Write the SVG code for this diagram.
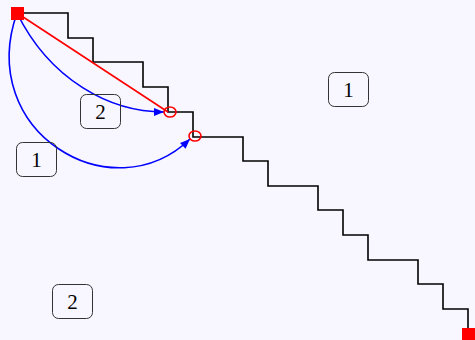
<svg xmlns="http://www.w3.org/2000/svg" width="475" height="340" viewBox="0 0 475 340">
<style>
.stair{fill:none;stroke:#000;stroke-width:1.6}
.red{fill:none;stroke:#f00;stroke-width:1.6}
.blue{fill:none;stroke:#00f;stroke-width:1.6}
.term{fill:#f00}
.box{fill:none;stroke:#333;stroke-width:1}
.lbl{font-family:"Liberation Serif",serif;font-size:21px;fill:#000;text-anchor:middle}
</style>
<defs>
<marker id="arr" viewBox="0 0 10 10" refX="10" refY="5" markerWidth="10" markerHeight="10" markerUnits="userSpaceOnUse" orient="auto">
<path d="M0,1 L10,5 L0,9 Z" fill="#00f"/>
</marker>
</defs>
<rect width="475" height="340" fill="#f8f6fe"/>
<g id="connectors">
<path class="stair" d="M17,13 H68 V38 H93 V62 H143 V87 H168 V112 H193 V137 H243 V161 H268 V186 H318 V210 H343 V235 H368 V260 H418 V284 H443 V309 H468 V334"/>
<path class="red" d="M17,13 L168,112"/>
<path class="blue" d="M17,13 C50,80 110,112 164,112" marker-end="url(#arr)"/>
<path class="blue" d="M17,13 C-25,132 112,214 190,139" marker-end="url(#arr)"/>
<ellipse class="red" cx="170" cy="112" rx="6" ry="5"/>
<ellipse class="red" cx="195" cy="136" rx="6" ry="5"/>
</g>
<g id="start"><rect class="term" x="11" y="7" width="13" height="13"/></g>
<g id="end"><rect class="term" x="462" y="328" width="13" height="12"/></g>
<g id="label-2a"><rect class="box" x="80.5" y="94.5" width="40" height="34" rx="6"/><text class="lbl" x="100.5" y="119">2</text></g>
<g id="label-1a"><rect class="box" x="16.5" y="142.5" width="40" height="34" rx="6"/><text class="lbl" x="36.5" y="167">1</text></g>
<g id="label-1b"><rect class="box" x="328.5" y="72.5" width="40" height="34" rx="6"/><text class="lbl" x="348.5" y="97">1</text></g>
<g id="label-2b"><rect class="box" x="52.5" y="284.5" width="40" height="34" rx="6"/><text class="lbl" x="72.5" y="309">2</text></g>
</svg>
